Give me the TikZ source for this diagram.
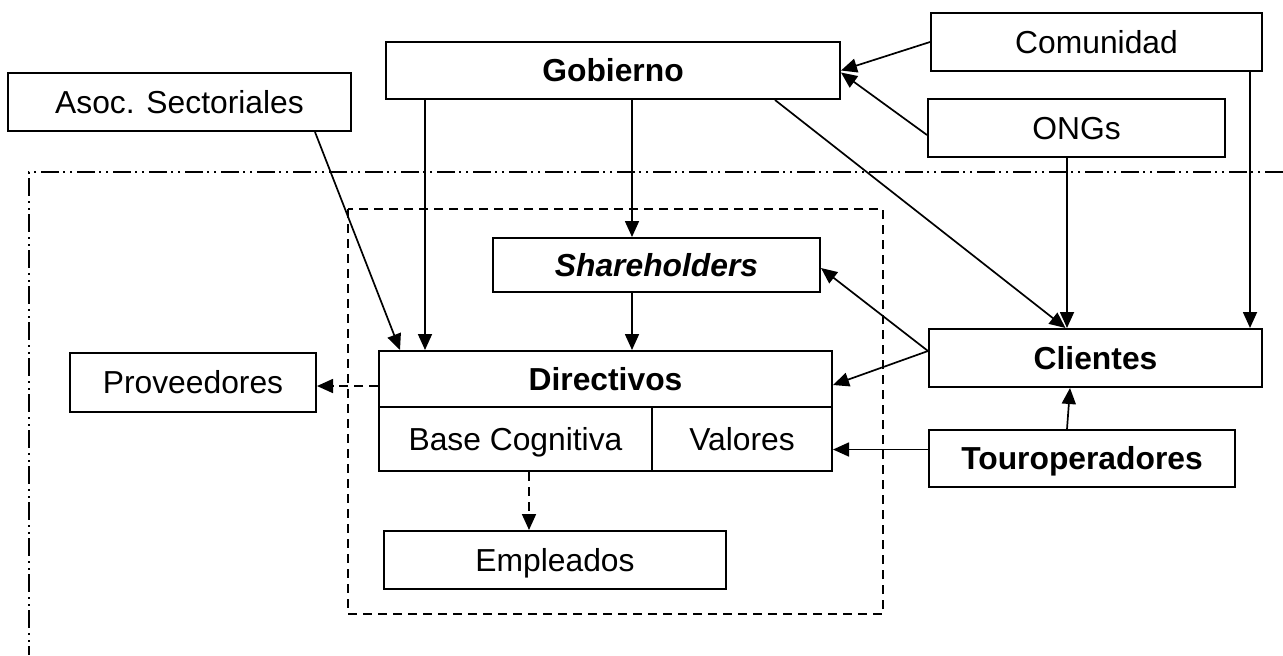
\documentclass[tikz,border=0pt]{standalone}
\usepackage{fontspec}
\setmainfont{Liberation Sans}
\usetikzlibrary{arrows.meta,calc}
\begin{document}
\begin{tikzpicture}[x=0.5pt,y=-0.5pt,
  box/.style={draw,line width=1pt,inner sep=0pt,text height=11.4pt,text depth=0pt,font=\fontsize{15.9}{19}\selectfont},
  arr/.style={line width=0.85pt,-{Triangle[length=8pt,width=7pt]}},
  darr/.style={arr,dash pattern=on 4.5pt off 3pt},
  dashdot/.style={line width=0.75pt,dash pattern=on 9pt off 2.5pt on 1pt off 2.5pt on 1pt off 2pt}]
\useasboundingbox (0,0) rectangle (1283,655);
% frames
\draw[line width=0.75pt,dash pattern=on 4.5pt off 3pt] (348,209) rectangle (883,614);
\draw[dashdot] (1283,172) -- (29,172) -- (29,655);
% nodes
\node[box,minimum width=227pt,minimum height=28.5pt] (gob) at (613,70.5) {\bfseries Gobierno};
\node[box,minimum width=165.5pt,minimum height=29pt] (com) at (1096.5,42) {Comunidad};
\node[box,minimum width=148.5pt,minimum height=29pt] (ong) at (1076.5,128) {ONGs};
\node[box,minimum width=171.5pt,minimum height=29pt] (aso) at (179.5,102) {Asoc. Sectoriales};
\node[box,minimum width=163.5pt,minimum height=27pt] (sh) at (656.5,265) {\bfseries\itshape Shareholders};
\node[box,minimum width=226.5pt,minimum height=28pt] (dir) at (605.5,379) {\bfseries Directivos};
\node[box,minimum width=136.5pt,minimum height=32pt] (bc) at (515.5,439) {Base Cognitiva};
\node[box,minimum width=90pt,minimum height=32pt] (val) at (742,439) {Valores};
\node[box,minimum width=123pt,minimum height=29.5pt] (prov) at (193,382.5) {Proveedores};
\node[box,minimum width=166.5pt,minimum height=29pt] (cli) at (1095.5,358) {\bfseries Clientes};
\node[box,minimum width=153pt,minimum height=28.5pt] (tour) at (1082,458.5) {\bfseries Touroperadores};
\node[box,minimum width=171pt,minimum height=29pt] (emp) at (555,560) {Empleados};
% connectors
\draw[arr] (com.west) -- (gob.east);
\draw[arr] ([yshift=-3.5pt]ong.west) -- ([yshift=-1pt]gob.east);
\draw[arr] ([xshift=81pt]gob.south) -- ([xshift=-15pt]cli.north);
\draw[arr] ([xshift=-4.75pt]ong.south) coordinate (o1) -- (o1 |- cli.north);
\draw[arr] ([xshift=76.75pt]com.south) coordinate (c1) -- (c1 |- cli.north);
\draw[arr] ([xshift=9.5pt]gob.south) coordinate (g1) -- (g1 |- sh.north);
\draw[arr] ([xshift=-12.25pt]sh.south) coordinate (s1) -- (s1 |- dir.north);
\draw[arr] ([xshift=-94pt]gob.south) coordinate (g2) -- (g2 |- dir.north);
\draw[arr] ([xshift=67.75pt]aso.south) -- ([xshift=-102.75pt]dir.north);
\draw[arr] ([yshift=3.5pt]cli.west) -- ([yshift=-1.5pt]sh.east);
\draw[arr] ([yshift=3.5pt]cli.west) -- ([yshift=-3pt]dir.east);
\draw[arr] ([yshift=4.5pt]tour.west) coordinate (t1) -- (t1 -| val.east);
\draw[arr] ([xshift=-7.5pt]tour.north) -- ([xshift=-12.75pt]cli.south);
\draw[darr] ([yshift=-3.5pt]dir.west) coordinate (p1) -- (p1 -| prov.east);
\draw[darr] ([xshift=6.75pt]bc.south) coordinate (b1) -- (b1 |- emp.north);
\end{tikzpicture}
\end{document}
